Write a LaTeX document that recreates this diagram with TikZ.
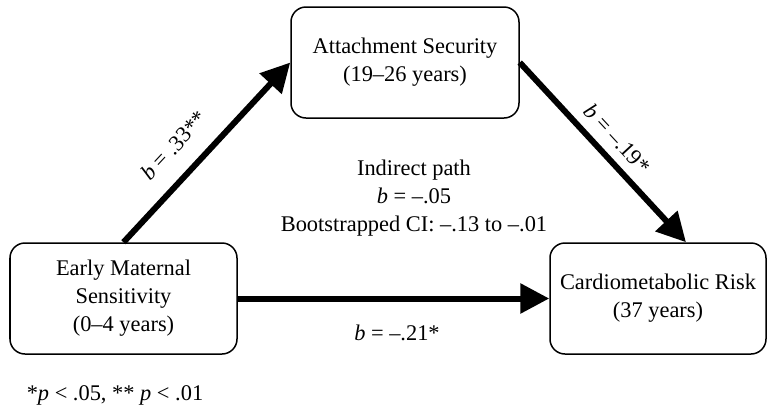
\documentclass[tikz,border=0pt]{standalone}
\usepackage{fontspec}
\setmainfont{Liberation Serif}
\usetikzlibrary{arrows.meta}

\begin{document}
\begin{tikzpicture}[x=0.5pt,y=-0.5pt,-{Triangle[length=14.5pt,width=14.5pt]},
                    line width=3pt,font=\fontsize{11.2}{14}\selectfont]
  \tikzstyle{box}=[draw=black,line width=0.75pt,rounded corners=7.5pt,
                   align=center,minimum height=55.5pt,inner sep=0]
  \tikzstyle{coef}=[sloped,inner sep=1pt]
  \useasboundingbox (0,0) rectangle (768,408);

  \node[box,minimum width=114pt] (attach) at (405,62.5)  {Attachment Security\\(19--26 years)};
  \node[box,minimum width=113.5pt] (early) at (123.5,298.5) {Early Maternal\\Sensitivity\\(0--4 years)};
  \node[box,minimum width=108pt] (cardio) at (658,298.5) {Cardiometabolic Risk\\(37 years)};

  \node[align=center] (indirect) at (414,198) {Indirect path\\\textit{b} = --.05\\Bootstrapped CI: --.13 to --.01};
  \node (note) at (115,395) {*\textit{p} < .05, ** \textit{p} < .01};

  \path (early.north) edge node[coef,pos=0.43,above=8pt] (bA) {\textit{b} = .33**} (attach.west);
  \path (attach.east) edge node[coef,pos=0.5,above=3.5pt] (bB) {\textit{b} = --.19*} ([xshift=14pt]cardio.north);
  \path (early.east) edge (cardio.west);
  \node (bC) at (397,333) {\textit{b} = --.21*};
\end{tikzpicture}
\end{document}
